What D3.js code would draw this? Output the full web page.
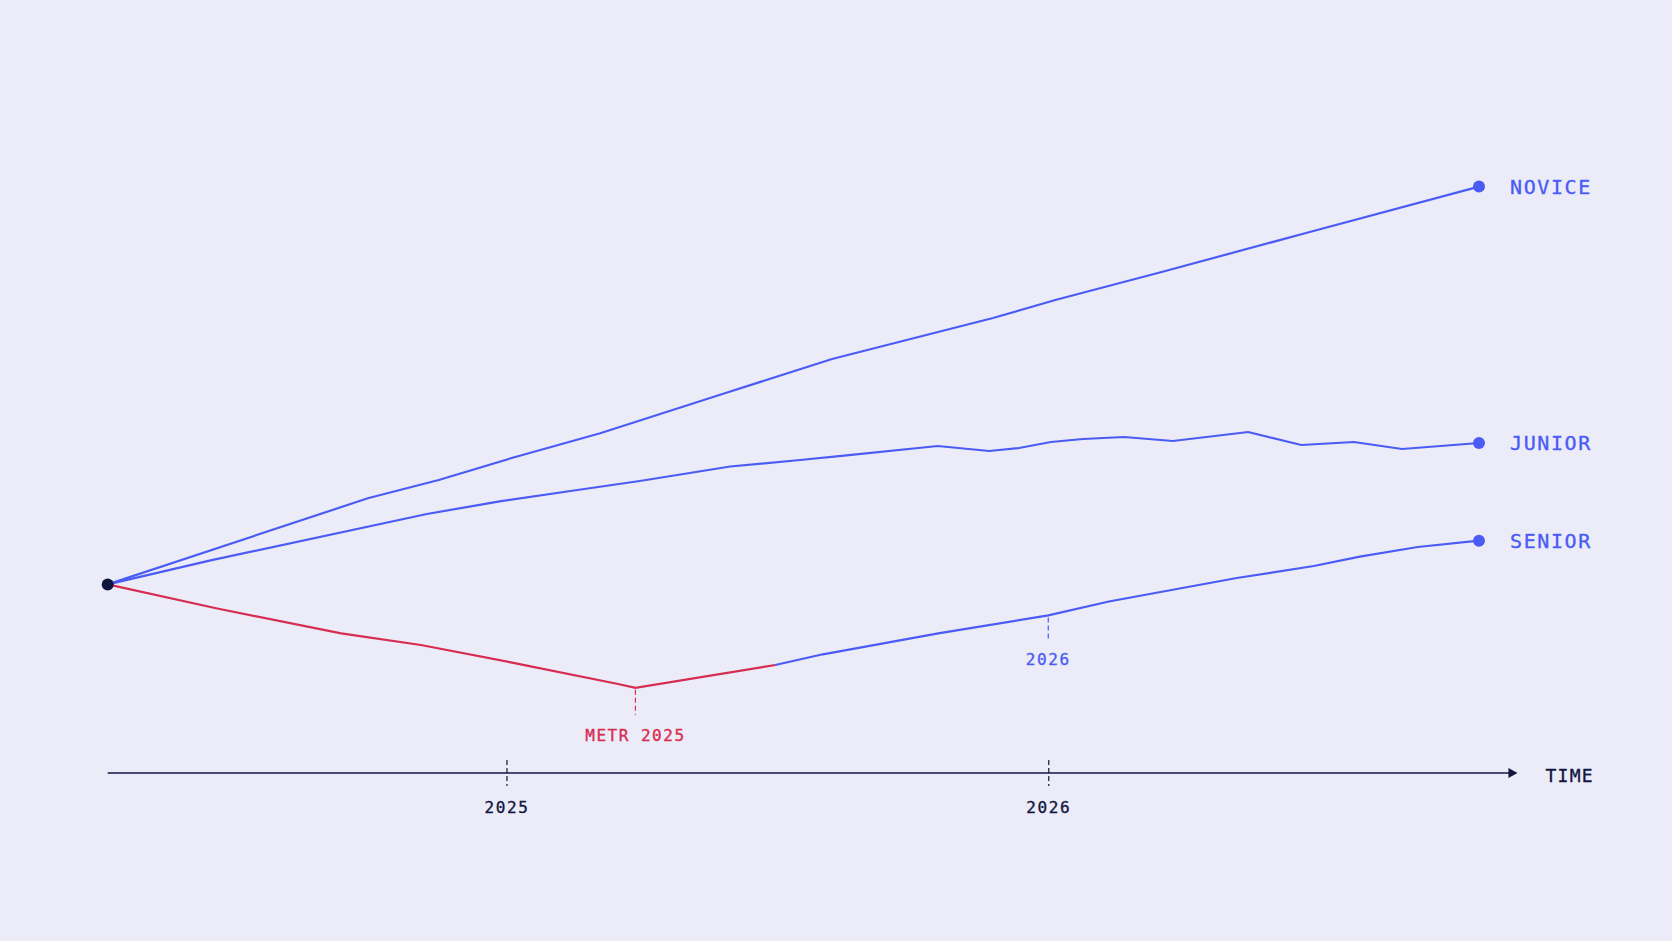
<!DOCTYPE html>
<html>
<head>
<meta charset="utf-8">
<script src="https://cdn.jsdelivr.net/npm/d3@7"></script>
<style>
  html, body { margin: 0; padding: 0; background: #ececf8; }
  svg { display: block; }
  text { font-family: "DejaVu Sans Mono", "Liberation Mono", monospace; stroke-width: 0.35px; }
</style>
</head>
<body>
<div id="chart"></div>
<script>
const width = 1672;
const height = 941;

// data: [decimal year, relative value]
const noviceData = [
  [2024.264, 0], [2024.744, 0.861], [2024.875, 1.044], [2025.008, 1.261],
  [2025.173, 1.511], [2025.403, 1.911], [2025.601, 2.254], [2025.898, 2.664],
  [2026.013, 2.844], [2026.211, 3.127], [2026.474, 3.511], [2026.795, 3.978]
];
const juniorData = [
  [2024.264, 0], [2024.458, 0.245], [2024.853, 0.704], [2024.990, 0.832],
  [2025.131, 0.944], [2025.246, 1.034], [2025.413, 1.179], [2025.542, 1.244],
  [2025.623, 1.287], [2025.796, 1.384], [2025.891, 1.334], [2025.946, 1.364],
  [2026.005, 1.424], [2026.064, 1.454], [2026.140, 1.474], [2026.230, 1.434],
  [2026.369, 1.524], [2026.467, 1.394], [2026.564, 1.424], [2026.653, 1.354],
  [2026.795, 1.414]
];
const seniorData = [
  [2024.264, 0], [2024.464, -0.239], [2024.695, -0.489], [2024.842, -0.606],
  [2025.008, -0.779], [2025.206, -0.996], [2025.238, -1.034], [2025.496, -0.806],
  [2025.584, -0.699], [2025.797, -0.490], [2026.000, -0.310], [2026.112, -0.171],
  [2026.348, 0.064], [2026.490, 0.184], [2026.575, 0.277], [2026.682, 0.374],
  [2026.795, 0.437]
];
const seriesNames = ["NOVICE", "JUNIOR", "SENIOR"];
const tickYears = [2025, 2026];
const redUntil = 2025.496;     // senior line is red up to here
const metrYear = 2025.238;
const metrLabel = "METR 2025";
const seniorMarkYear = 2026;
const axisEndYear = 2026.866;
const axisLabel = "TIME";

const blue = "#4a5cf4";
const red = "#d62c50";
const navy = "#12163f";

const svg = d3.select("#chart").append("svg")
  .attr("width", width).attr("height", height);

const x = d3.scaleLinear().domain([2024.264, 2026.795]).range([107.7, 1479]);
const y = d3.scaleLinear().domain([0, 3.978]).range([584.4, 186.6]);
const axisY = 773;

const line = d3.line().x(d => x(d[0])).y(d => y(d[1]));

// time axis
const axis = svg.append("g")
  .attr("transform", `translate(0, ${axisY})`)
  .call(d3.axisBottom(x).tickValues(tickYears).tickFormat(d3.format("d")).tickSizeOuter(0));
axis.select(".domain").remove();
axis.selectAll(".tick line")
  .attr("y1", -13).attr("y2", 13)
  .attr("stroke", navy).attr("stroke-width", 1.2)
  .attr("stroke-dasharray", "5,3");
axis.selectAll(".tick text")
  .attr("y", 34).attr("dy", "0.35em")
  .attr("fill", navy).attr("stroke", navy)
  .style("font-size", "16px").style("letter-spacing", "1.6px");

svg.append("line")
  .attr("x1", x(noviceData[0][0])).attr("x2", x(axisEndYear) - 6)
  .attr("y1", axisY).attr("y2", axisY)
  .attr("stroke", navy).attr("stroke-width", 1.7);
const ax = x(axisEndYear);
svg.append("path")
  .attr("d", `M${ax},${axisY} L${ax - 9},${axisY - 5} L${ax - 9},${axisY + 5} Z`)
  .attr("fill", navy);
svg.append("text")
  .text(axisLabel)
  .attr("x", ax + 28).attr("y", axisY + 3).attr("dy", "0.35em")
  .attr("fill", navy).attr("stroke", navy)
  .style("font-size", "18px").style("letter-spacing", "1.3px");

// lines
svg.append("path").datum(noviceData)
  .attr("fill", "none").attr("stroke", blue).attr("stroke-width", 2.2).attr("d", line);
svg.append("path").datum(juniorData)
  .attr("fill", "none").attr("stroke", blue).attr("stroke-width", 2.2).attr("d", line);
svg.append("path").datum(seniorData.filter(d => d[0] >= redUntil))
  .attr("fill", "none").attr("stroke", blue).attr("stroke-width", 2.2).attr("d", line);
svg.append("path").datum(seniorData.filter(d => d[0] <= redUntil))
  .attr("fill", "none").attr("stroke", red).attr("stroke-width", 2.2).attr("d", line);

// METR annotation
const metrPoint = seniorData.find(d => d[0] === metrYear);
svg.append("line")
  .attr("x1", x(metrYear)).attr("x2", x(metrYear))
  .attr("y1", y(metrPoint[1]) + 2).attr("y2", y(metrPoint[1]) + 27)
  .attr("stroke", red).attr("stroke-width", 1.2).attr("stroke-dasharray", "5,3");
svg.append("text")
  .text(metrLabel)
  .attr("x", x(metrYear)).attr("y", y(metrPoint[1]) + 48).attr("dy", "0.35em")
  .attr("text-anchor", "middle").attr("fill", red).attr("stroke", red)
  .style("font-size", "16px").style("letter-spacing", "1.5px");

// 2026 mark on senior line
const markPoint = seniorData.find(d => d[0] === seniorMarkYear);
svg.append("line")
  .attr("x1", x(seniorMarkYear)).attr("x2", x(seniorMarkYear))
  .attr("y1", y(markPoint[1]) + 2).attr("y2", y(markPoint[1]) + 25)
  .attr("stroke", blue).attr("stroke-width", 1.2).attr("stroke-dasharray", "5,3");
svg.append("text")
  .text(d3.format("d")(seniorMarkYear))
  .attr("x", x(seniorMarkYear)).attr("y", y(markPoint[1]) + 44).attr("dy", "0.35em")
  .attr("text-anchor", "middle").attr("fill", blue).attr("stroke", blue)
  .style("font-size", "16px").style("letter-spacing", "1.6px");

// end dots and labels
const ends = [noviceData, juniorData, seniorData].map((s, i) => ({ name: seriesNames[i], p: s[s.length - 1] }));
svg.selectAll(".end-dot").data(ends).join("circle")
  .attr("cx", d => x(d.p[0])).attr("cy", d => y(d.p[1])).attr("r", 6)
  .attr("fill", blue);
svg.selectAll(".end-label").data(ends).join("text")
  .text(d => d.name)
  .attr("x", d => x(d.p[0]) + 31).attr("y", d => y(d.p[1])).attr("dy", "0.36em")
  .attr("fill", blue).attr("stroke", blue)
  .style("font-size", "20px").style("letter-spacing", "1.6px");

// start dot
svg.append("circle")
  .attr("cx", x(noviceData[0][0])).attr("cy", y(noviceData[0][1])).attr("r", 6)
  .attr("fill", navy);
</script>
</body>
</html>
